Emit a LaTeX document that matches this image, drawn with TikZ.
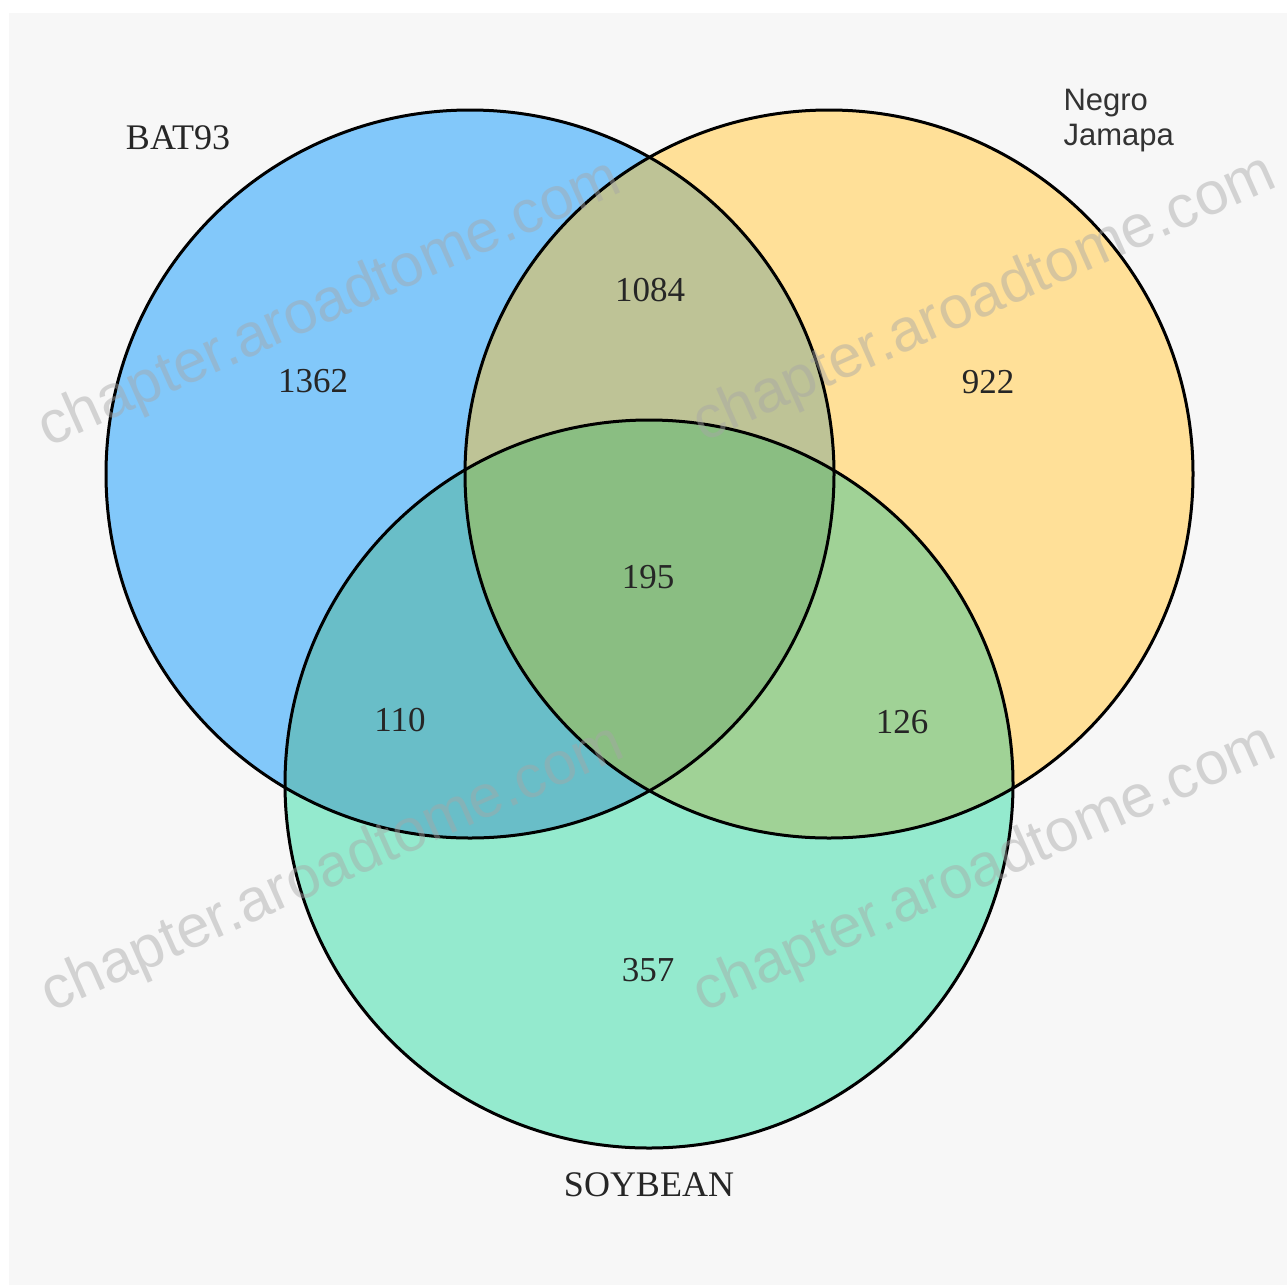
\documentclass[tikz,border=0pt]{standalone}
\usepackage{fontspec}
\setmainfont{Liberation Serif}
\newfontfamily\sansf{Liberation Sans}
\definecolor{bgc}{RGB}{247,247,247}
\definecolor{cA}{RGB}{130,200,250}
\definecolor{cB}{RGB}{255,224,152}
\definecolor{cC}{RGB}{148,234,206}
\definecolor{cAB}{RGB}{190,195,150}
\definecolor{cAC}{RGB}{105,190,200}
\definecolor{cBC}{RGB}{160,210,150}
\definecolor{cABC}{RGB}{138,190,130}
\tikzset{
  ring/.style={draw=black, line width=3pt},
  num/.style={font=\fontsize{35}{40}\selectfont, text=black!85},
  setlabel/.style={font=\fontsize{36}{40}\selectfont, text=black!85},
  wmark/.style={font=\sansf\fontsize{60}{60}\selectfont, text=gray!70, text opacity=0.45, rotate=24}
}
\begin{document}
\begin{tikzpicture}[x=1pt,y=-1pt]
\useasboundingbox (0,0) rectangle (1287,1285);
\fill[white] (0,0) rectangle (1287,1285);
\fill[bgc] (9,13) rectangle (1287,1285);
\coordinate (A) at (470,474);
\coordinate (B) at (829,474);
\coordinate (C) at (649,784);
\def\R{364pt}
\fill[cA] (A) circle[radius=\R];
\fill[cB] (B) circle[radius=\R];
\fill[cC] (C) circle[radius=\R];
\begin{scope}\clip (A) circle[radius=\R]; \fill[cAB] (B) circle[radius=\R];\end{scope}
\begin{scope}\clip (A) circle[radius=\R]; \fill[cAC] (C) circle[radius=\R];\end{scope}
\begin{scope}\clip (B) circle[radius=\R]; \fill[cBC] (C) circle[radius=\R];\end{scope}
\begin{scope}\clip (A) circle[radius=\R]; \clip (B) circle[radius=\R]; \fill[cABC] (C) circle[radius=\R];\end{scope}
\draw[ring] (A) circle[radius=\R];
\draw[ring] (B) circle[radius=\R];
\draw[ring] (C) circle[radius=\R];
\node[num] (n1084) at (650,290) {1084};
\node[num] (n1362) at (313,381) {1362};
\node[num] (n922) at (988,382) {922};
\node[num] (n195) at (648,577) {195};
\node[num] (n110) at (400,720) {110};
\node[num] (n126) at (902,722) {126};
\node[num] (n357) at (648,970) {357};
\node[setlabel] (lA) at (178,138) {BAT93};
\node[setlabel] (lC) at (649,1185) {SOYBEAN};
\node[font=\sansf\fontsize{31}{35}\selectfont, text=black!80, align=left, anchor=north west] (lB) at (1060,86) {Negro\\Jamapa};
\node[wmark] (w1) at (330,305) {chapter.aroadtome.com};
\node[wmark] (w2) at (985,300) {chapter.aroadtome.com};
\node[wmark] (w3) at (333,870) {chapter.aroadtome.com};
\node[wmark] (w4) at (985,870) {chapter.aroadtome.com};
\end{tikzpicture}
\end{document}
